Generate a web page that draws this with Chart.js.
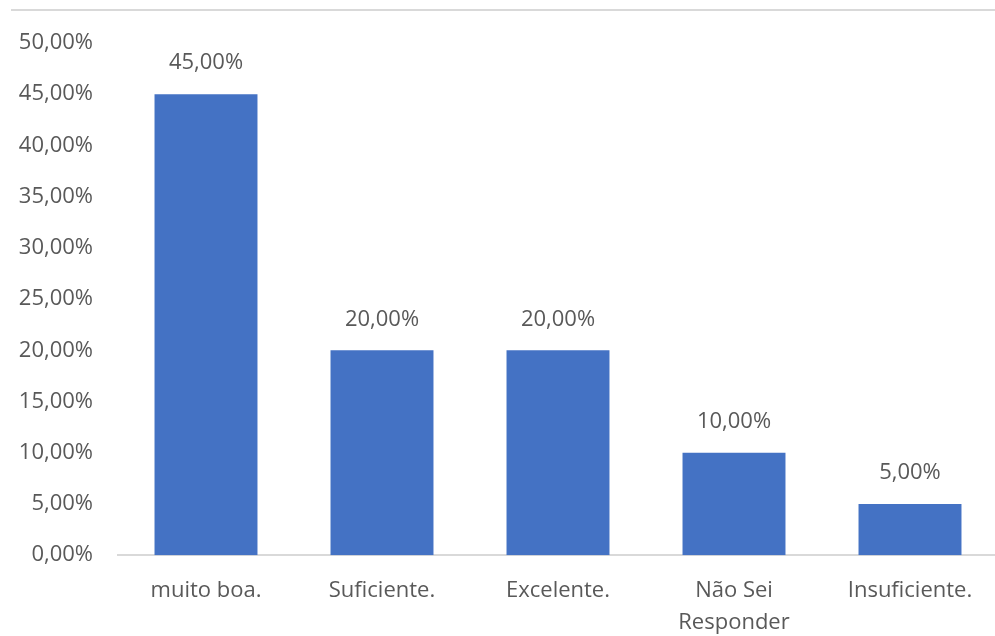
<!DOCTYPE html>
<html>
<head>
<meta charset="utf-8">
<script src="https://cdn.jsdelivr.net/npm/chart.js@4"></script>
<style>
  html, body { margin: 0; padding: 0; background: #ffffff; overflow: hidden; }
  #wrap { position: relative; width: 995px; height: 636px; overflow: hidden; }
  #topline { position: absolute; left: 11px; top: 9px; width: 984px; height: 0; border-top: 2px solid #d9d9d9; }
  canvas { position: absolute; left: 0; top: 0; }
</style>
</head>
<body>
<div id="wrap">
  <canvas id="c" width="1000" height="659"></canvas>
  <div id="topline"></div>
</div>
<script>
const categoryLabels = ["muito boa.", "Suficiente.", "Excelente.", ["Não Sei", "Responder"], "Insuficiente."];
const values = [45, 20, 20, 10, 5];
const yMin = 0, yMax = 50, yStep = 5;

const FONT = "'Open Sans', 'Liberation Sans', sans-serif";
const TEXT = "#595959";

function fmt(v) { return v.toFixed(2).replace('.', ',') + '%'; }

const labelPlugin = {
  id: 'barLabels',
  afterDatasetsDraw(chart) {
    const ctx = chart.ctx;
    const meta = chart.getDatasetMeta(0);
    ctx.save();
    ctx.font = "22px " + FONT;
    ctx.fillStyle = TEXT;
    ctx.textAlign = 'center';
    ctx.textBaseline = 'middle';
    meta.data.forEach((bar, i) => {
      ctx.fillText(fmt(values[i]), bar.x, bar.y - 31);
    });
    ctx.restore();
  }
};

new Chart(document.getElementById('c'), {
  type: 'bar',
  data: {
    labels: categoryLabels,
    datasets: [{
      data: values,
      backgroundColor: '#4472c4',
      borderWidth: 0,
      barPercentage: 0.585,
      categoryPercentage: 1.0
    }]
  },
  options: {
    responsive: false,
    animation: false,
    layout: { padding: { top: 43, right: 2, bottom: 0, left: 0 } },
    plugins: { legend: { display: false }, tooltip: { enabled: false } },
    scales: {
      x: {
        grid: { display: false, drawTicks: false },
        border: { display: true, color: '#d9d9d9', width: 2 },
        ticks: { color: TEXT, font: { size: 22, family: FONT, lineHeight: 1.45 }, padding: 20, maxRotation: 0, autoSkip: false }
      },
      y: {
        min: yMin, max: yMax,
        afterFit(scale) { scale.width = 118; },
        grid: { display: false, drawTicks: false },
        border: { display: false },
        ticks: { stepSize: yStep, color: TEXT, font: { size: 22, family: FONT }, padding: 25, callback: (v) => fmt(v) }
      }
    }
  },
  plugins: [labelPlugin]
});
</script>
</body>
</html>
